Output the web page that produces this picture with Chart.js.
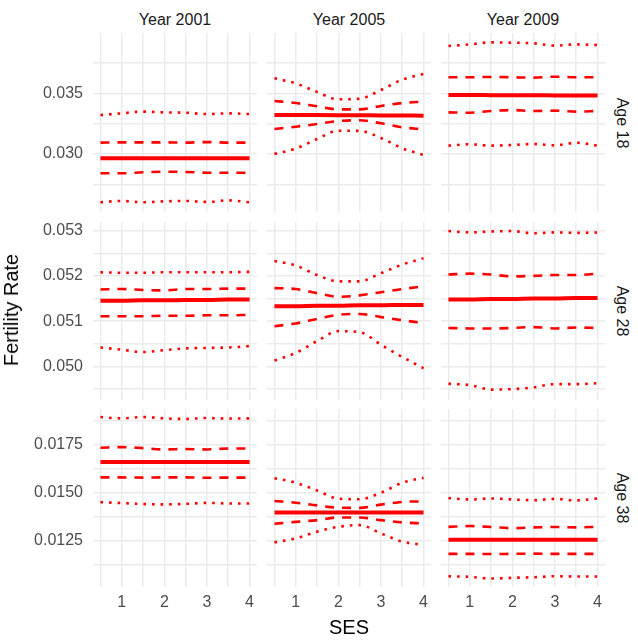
<!DOCTYPE html>
<html>
<head>
<meta charset="utf-8">
<script src="https://cdn.jsdelivr.net/npm/chart.js@4.4.1/dist/chart.umd.min.js"></script>
<style>
  body { margin: 0; background: #fff; }
  #lienzo { position: relative; width: 638px; height: 640px; font-family: "Liberation Sans", Arial, sans-serif; overflow: hidden; }
  #lienzo canvas { position: absolute; }
  .txt { position: absolute; white-space: nowrap; line-height: 1; transform-origin: center center; }
  .strip { font-size: 16px; color: #1a1a1a; }
  .titulo { font-size: 20px; color: #000; }
</style>
</head>
<body>
<div id="lienzo"></div>
<script>
// eje x (SES) y etiquetas de las facetas
const ses = [0.5, 1, 1.5, 2, 2.5, 3, 3.5, 4];
const years = ["Year 2001", "Year 2005", "Year 2009"];
const ages = ["Age 18", "Age 28", "Age 38"];

// rango y ticks del eje y por fila
const yLimits = [[0.02522, 0.03997], [0.04926, 0.05319], [0.01008, 0.01937]];
const yStep = [0.0025, 0.0005, 0.00125];
const yMajor = [0.005, 0.001, 0.0025];
const yDecimals = [3, 3, 4];

// Age 18
const dotHi_18_2001 = [0.03321, 0.03335, 0.03349, 0.03343, 0.03340, 0.03329, 0.03335, 0.03329];
const dashHi_18_2001 = [0.03094, 0.03096, 0.03096, 0.03096, 0.03094, 0.03098, 0.03094, 0.03094];
const mean_18_2001 = [0.02965, 0.02965, 0.02965, 0.02965, 0.02965, 0.02965, 0.02965, 0.02965];
const dashLo_18_2001 = [0.02841, 0.02841, 0.02849, 0.02854, 0.02852, 0.02846, 0.02846, 0.02844];
const dotLo_18_2001 = [0.02602, 0.02613, 0.02602, 0.02610, 0.02613, 0.02605, 0.02618, 0.02602];

const dotHi_18_2005 = [0.03624, 0.03582, 0.03511, 0.03451, 0.03456, 0.03527, 0.03613, 0.03659];
const dashHi_18_2005 = [0.03437, 0.03420, 0.03393, 0.03368, 0.03368, 0.03396, 0.03420, 0.03431];
const mean_18_2005 = [0.03322, 0.03322, 0.03321, 0.03320, 0.03319, 0.03318, 0.03317, 0.03316];
const dashLo_18_2005 = [0.03206, 0.03225, 0.03247, 0.03272, 0.03278, 0.03253, 0.03220, 0.03203];
const dotLo_18_2005 = [0.03000, 0.03044, 0.03124, 0.03192, 0.03190, 0.03132, 0.03047, 0.02992];

const dotHi_18_2009 = [0.03890, 0.03903, 0.03920, 0.03917, 0.03912, 0.03893, 0.03903, 0.03898];
const dashHi_18_2009 = [0.03632, 0.03632, 0.03635, 0.03632, 0.03629, 0.03637, 0.03632, 0.03632];
const mean_18_2009 = [0.03486, 0.03486, 0.03485, 0.03484, 0.03484, 0.03483, 0.03482, 0.03481];
const dashLo_18_2009 = [0.03343, 0.03340, 0.03354, 0.03362, 0.03354, 0.03357, 0.03349, 0.03354];
const dotLo_18_2009 = [0.03069, 0.03080, 0.03069, 0.03074, 0.03082, 0.03071, 0.03093, 0.03069];

// Age 28
const dotHi_28_2001 = [0.05208, 0.05207, 0.05207, 0.05208, 0.05208, 0.05208, 0.05208, 0.05209];
const dashHi_28_2001 = [0.05170, 0.05171, 0.05169, 0.05168, 0.05171, 0.05171, 0.05172, 0.05172];
const mean_28_2001 = [0.05145, 0.05145, 0.05146, 0.05146, 0.05147, 0.05147, 0.05148, 0.05148];
const dashLo_28_2001 = [0.05111, 0.05111, 0.05111, 0.05112, 0.05112, 0.05113, 0.05113, 0.05114];
const dotLo_28_2001 = [0.05042, 0.05037, 0.05032, 0.05036, 0.05040, 0.05041, 0.05042, 0.05045];

const dotHi_28_2005 = [0.05233, 0.05223, 0.05202, 0.05188, 0.05188, 0.05206, 0.05225, 0.05239];
const dashHi_28_2005 = [0.05173, 0.05171, 0.05162, 0.05154, 0.05157, 0.05164, 0.05171, 0.05177];
const mean_28_2005 = [0.05133, 0.05133, 0.05134, 0.05134, 0.05135, 0.05135, 0.05136, 0.05136];
const dashLo_28_2005 = [0.05089, 0.05095, 0.05105, 0.05114, 0.05116, 0.05109, 0.05102, 0.05096];
const dotLo_28_2005 = [0.05013, 0.05030, 0.05056, 0.05078, 0.05076, 0.05048, 0.05021, 0.04996];

const dotHi_28_2009 = [0.05299, 0.05296, 0.05298, 0.05299, 0.05294, 0.05296, 0.05295, 0.05296];
const dashHi_28_2009 = [0.05203, 0.05205, 0.05203, 0.05199, 0.05200, 0.05202, 0.05202, 0.05205];
const mean_28_2009 = [0.05148, 0.05148, 0.05149, 0.05149, 0.05150, 0.05150, 0.05151, 0.05151];
const dashLo_28_2009 = [0.05085, 0.05084, 0.05084, 0.05085, 0.05087, 0.05084, 0.05086, 0.05085];
const dotLo_28_2009 = [0.04962, 0.04959, 0.04949, 0.04950, 0.04954, 0.04961, 0.04961, 0.04963];

// Age 38
const dotHi_38_2001 = [0.01895, 0.01888, 0.01895, 0.01888, 0.01885, 0.01890, 0.01887, 0.01888];
const dashHi_38_2001 = [0.01735, 0.01738, 0.01733, 0.01726, 0.01728, 0.01726, 0.01731, 0.01731];
const mean_38_2001 = [0.01660, 0.01660, 0.01660, 0.01660, 0.01660, 0.01660, 0.01660, 0.01660];
const dashLo_38_2001 = [0.01580, 0.01580, 0.01579, 0.01580, 0.01580, 0.01578, 0.01579, 0.01579];
const dotLo_38_2001 = [0.01451, 0.01446, 0.01441, 0.01439, 0.01442, 0.01447, 0.01444, 0.01444];

const dotHi_38_2005 = [0.01576, 0.01552, 0.01512, 0.01469, 0.01466, 0.01500, 0.01552, 0.01578];
const dashHi_38_2005 = [0.01457, 0.01448, 0.01434, 0.01422, 0.01421, 0.01438, 0.01452, 0.01455];
const mean_38_2005 = [0.01397, 0.01397, 0.01397, 0.01397, 0.01397, 0.01397, 0.01397, 0.01397];
const dashLo_38_2005 = [0.01338, 0.01348, 0.01357, 0.01371, 0.01371, 0.01357, 0.01345, 0.01340];
const dotLo_38_2005 = [0.01241, 0.01262, 0.01297, 0.01322, 0.01331, 0.01288, 0.01245, 0.01228];

const dotHi_38_2009 = [0.01472, 0.01465, 0.01470, 0.01465, 0.01461, 0.01468, 0.01460, 0.01470];
const dashHi_38_2009 = [0.01322, 0.01326, 0.01321, 0.01315, 0.01319, 0.01321, 0.01319, 0.01322];
const mean_38_2009 = [0.01254, 0.01254, 0.01254, 0.01254, 0.01254, 0.01254, 0.01254, 0.01254];
const dashLo_38_2009 = [0.01181, 0.01181, 0.01180, 0.01181, 0.01182, 0.01181, 0.01181, 0.01181];
const dotLo_38_2009 = [0.01064, 0.01061, 0.01052, 0.01056, 0.01059, 0.01064, 0.01063, 0.01063];

// tabla de paneles [fila][columna]
const panels = [
    [
        [dotHi_18_2001, dashHi_18_2001, mean_18_2001, dashLo_18_2001, dotLo_18_2001],
        [dotHi_18_2005, dashHi_18_2005, mean_18_2005, dashLo_18_2005, dotLo_18_2005],
        [dotHi_18_2009, dashHi_18_2009, mean_18_2009, dashLo_18_2009, dotLo_18_2009],
    ],
    [
        [dotHi_28_2001, dashHi_28_2001, mean_28_2001, dashLo_28_2001, dotLo_28_2001],
        [dotHi_28_2005, dashHi_28_2005, mean_28_2005, dashLo_28_2005, dotLo_28_2005],
        [dotHi_28_2009, dashHi_28_2009, mean_28_2009, dashLo_28_2009, dotLo_28_2009],
    ],
    [
        [dotHi_38_2001, dashHi_38_2001, mean_38_2001, dashLo_38_2001, dotLo_38_2001],
        [dotHi_38_2005, dashHi_38_2005, mean_38_2005, dashLo_38_2005, dotLo_38_2005],
        [dotHi_38_2009, dashHi_38_2009, mean_38_2009, dashLo_38_2009, dotLo_38_2009],
    ],
];

const fuente = '"Liberation Sans", Arial, sans-serif';
const lineStyles = [
    { borderWidth: 2.6, borderDash: [2.6, 6] },
    { borderWidth: 2.6, borderDash: [9, 8] },
    { borderWidth: 4, borderDash: [] },
    { borderWidth: 2.6, borderDash: [9, 8] },
    { borderWidth: 2.6, borderDash: [2.6, 6] },
];

const panelLeft = [93, 267, 441];
const panelTop = [33, 222, 409];
const panelH = [179, 178, 178];
const panelW = 164;
const lienzo = document.getElementById("lienzo");

function addText(text, cls, x, y, rot) {
    const d = document.createElement("div");
    d.className = "txt " + cls;
    d.textContent = text;
    d.style.left = x + "px";
    d.style.top = y + "px";
    d.style.transform = "translate(-50%, -50%) rotate(" + rot + "deg)";
    lienzo.appendChild(d);
}

function makePanel(r, c) {
    const canvas = document.createElement("canvas");
    const left = c === 0 ? 0 : panelLeft[c];
    const w = c === 0 ? panelLeft[0] + panelW : panelW;
    const h = panelH[r] + (r === 2 ? 32 : 0);
    canvas.width = w;
    canvas.height = h;
    canvas.style.left = left + "px";
    canvas.style.top = panelTop[r] + "px";
    canvas.style.width = w + "px";
    canvas.style.height = h + "px";
    lienzo.appendChild(canvas);

    const datasets = panels[r][c].map((vals, i) => ({
        data: vals.map((v, k) => ({ x: ses[k], y: v })),
        borderColor: "#ff0000",
        borderWidth: lineStyles[i].borderWidth,
        borderDash: lineStyles[i].borderDash,
        pointRadius: 0,
        fill: false,
        cubicInterpolationMode: "monotone",
    }));

    new Chart(canvas, {
        type: "line",
        data: { datasets: datasets },
        options: {
            responsive: false,
            animation: false,
            devicePixelRatio: 1,
            events: [],
            layout: { padding: 0 },
            plugins: { legend: { display: false }, tooltip: { enabled: false } },
            scales: {
                x: {
                    type: "linear",
                    min: 0.325,
                    max: 4.175,
                    border: { display: false },
                    grid: { color: "#ebebeb", lineWidth: 1.5, drawTicks: false },
                    ticks: {
                        display: r === 2,
                        stepSize: 0.5,
                        includeBounds: false,
                        autoSkip: false,
                        maxRotation: 0,
                        padding: 6,
                        color: "#4d4d4d",
                        font: { size: 16, family: fuente },
                        callback: (v) => (Number.isInteger(v) ? String(v) : ""),
                    },
                    afterFit: (s) => {
                        s.height = r === 2 ? 32 : 0;
                        s.paddingLeft = 0;
                        s.paddingRight = 0;
                    },
                },
                y: {
                    type: "linear",
                    min: yLimits[r][0],
                    max: yLimits[r][1],
                    border: { display: false },
                    grid: { color: "#ebebeb", lineWidth: 1.5, drawTicks: false },
                    ticks: {
                        display: c === 0,
                        stepSize: yStep[r],
                        includeBounds: false,
                        autoSkip: false,
                        padding: 10,
                        color: "#4d4d4d",
                        font: { size: 16, family: fuente, lineHeight: 1 },
                        callback: (v) => {
                            const k = v / yMajor[r];
                            return Math.abs(k - Math.round(k)) < 1e-6 ? v.toFixed(yDecimals[r]) : "";
                        },
                    },
                    afterFit: (s) => {
                        s.width = c === 0 ? panelLeft[0] : 0;
                        s.paddingTop = 0;
                        s.paddingBottom = 0;
                    },
                },
            },
        },
    });
}

for (let r = 0; r < 3; r++) {
    for (let c = 0; c < 3; c++) {
        makePanel(r, c);
    }
}

// títulos de facetas y ejes
const colCenter = [175, 349, 523];
const rowCenter = [122.5, 311, 498];
years.forEach((t, c) => addText(t, "strip", colCenter[c], 19.5, 0));
ages.forEach((t, r) => addText(t, "strip", 622, rowCenter[r], 90));
addText("Fertility Rate", "titulo", 10.5, 310, -90);
addText("SES", "titulo", 349, 626.5, 0);
</script>
</body>
</html>
